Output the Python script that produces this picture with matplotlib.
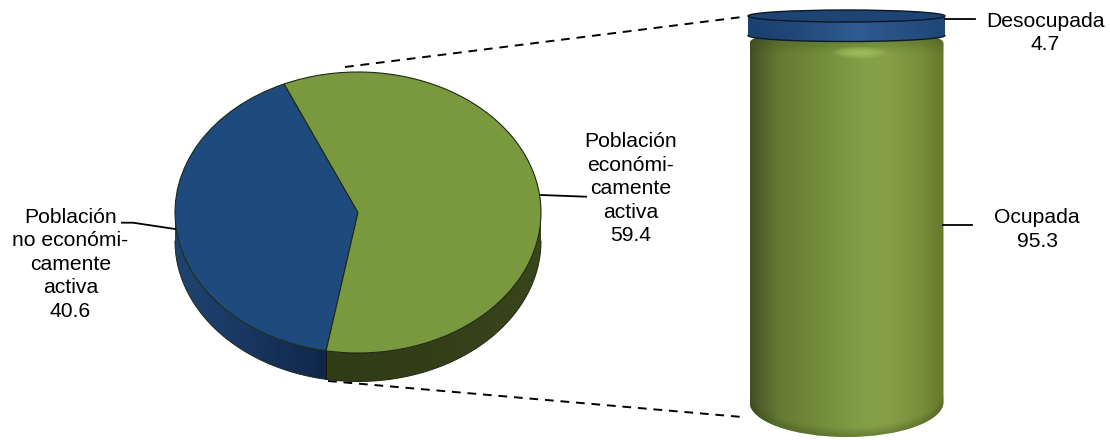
import numpy as np
import matplotlib
matplotlib.use("Agg")
import matplotlib.pyplot as plt
from matplotlib.patches import Wedge, Polygon, Ellipse, PathPatch
from matplotlib.path import Path
from matplotlib.colors import LinearSegmentedColormap, to_rgb
from matplotlib.transforms import Affine2D

plt.rcParams['font.family'] = ['Liberation Sans', 'DejaVu Sans']

# ---- data ----
pie_labels = ["Población\nno económi-\ncamente\nactiva", "Población\neconómi-\ncamente\nactiva"]
pie_values = [40.6, 59.4]
stack_labels = ["Desocupada", "Ocupada"]
stack_values = [4.7, 95.3]

BLUE = "#1F4A7E"
GREEN = "#7A993F"
EDGE = "#1b2a14"

fig = plt.figure(figsize=(11.1, 4.4), dpi=100)
ax = fig.add_axes([0, 0, 1, 1])
ax.axis("off")

# ---- 3D pie ----
cx, cy, rx, ry, depth = 358.0, 212.5, 183.0, 140.5, 28.5
start = 113.8
sweep = [v / sum(pie_values) * 360 for v in pie_values]
blue_end = start + sweep[0]
pie_tf = Affine2D().scale(rx, -ry).translate(cx, cy) + ax.transData

grad = np.linspace(0, 1, 256).reshape(1, -1)


def side_wall(a0, a1, cmap, z=2):
    """Side of the pie between two angles, shaded left to right."""
    t = np.radians(np.linspace(a0, a1, 120))
    x = cx + rx * np.cos(t)
    y = cy - ry * np.sin(t)
    poly = Polygon(np.r_[np.c_[x, y], np.c_[x[::-1], y[::-1] + depth]], closed=True,
                   fc="none", ec="none", zorder=z)
    ax.add_patch(poly)
    im = ax.imshow(grad, cmap=cmap, extent=[x.min(), x.max(), cy + ry + depth + 1, cy - 5],
                   aspect="auto", zorder=z + 0.1)
    im.set_clip_path(poly)
    ax.plot(x, y + depth, color="#20281a", lw=0.7, zorder=z + 0.2)


side_wall(180, blue_end, LinearSegmentedColormap.from_list("bw", ["#1F4471", "#183660", "#10264A"]))
side_wall(blue_end, 360, LinearSegmentedColormap.from_list("gw", ["#303C16", "#343F18", "#39451B"]))
sx = cx + rx * np.cos(np.radians(blue_end))
sy = cy - ry * np.sin(np.radians(blue_end))
ax.plot([sx, sx], [sy, sy + depth], color="#10180c", lw=0.7, zorder=2.5)

# top face
ax.add_patch(Wedge((0, 0), 1, start, blue_end, fc=BLUE, ec=EDGE, lw=0.8, transform=pie_tf, zorder=3))
ax.add_patch(Wedge((0, 0), 1, blue_end, start + 360, fc=GREEN, ec=EDGE, lw=0.8, transform=pie_tf, zorder=3))

# ---- cylinder ----
cyl_cx, cyl_rx = 846.5, 97.0
disc_rx = 98.5
top_y = 16.0
height = 415.0
end_ry = 6.0
y_split = top_y + height * stack_values[0] / sum(stack_values)
y_base = y_split + height * stack_values[1] / sum(stack_values)
base_bottom = y_base + end_ry
base_ry = 35.0

xl, xr = cyl_cx - cyl_rx, cyl_cx + cyl_rx
k = 0.5523
corner = 7
verts = [(xl, y_split + 8), (xl, base_bottom - base_ry),
         (xl, base_bottom - base_ry + k * base_ry), (cyl_cx - k * cyl_rx, base_bottom), (cyl_cx, base_bottom),
         (cyl_cx + k * cyl_rx, base_bottom), (xr, base_bottom - base_ry + k * base_ry), (xr, base_bottom - base_ry),
         (xr, y_split + 8), (xr, y_split + 4), (xr - corner, y_split + 2), (xr - corner, y_split + 2),
         (xl + corner, y_split + 2), (xl + corner, y_split + 2), (xl, y_split + 4), (xl, y_split + 8)]
codes = [Path.MOVETO, Path.LINETO, Path.CURVE4, Path.CURVE4, Path.CURVE4, Path.CURVE4, Path.CURVE4, Path.CURVE4,
         Path.LINETO, Path.CURVE4, Path.CURVE4, Path.CURVE4, Path.LINETO, Path.CURVE4, Path.CURVE4, Path.CURVE4]
body = PathPatch(Path(verts, codes), fc="none", ec="none", zorder=4)
ax.add_patch(body)

green_cm = LinearSegmentedColormap.from_list("g", [
    (0.00, "#434F24"), (0.05, "#4F602A"), (0.15, "#647A33"), (0.35, "#728C3A"),
    (0.60, "#84A046"), (0.72, "#859F46"), (0.88, "#76903A"), (1.00, "#66782C")])
im = ax.imshow(grad, cmap=green_cm, extent=[xl, xr, base_bottom + 1, y_split], aspect="auto", zorder=4.1)
im.set_clip_path(body)

# vertical shading: dark just under the disc and along the rounded base
h = 200
yy = np.linspace(y_split, base_bottom + 1, h)
alpha = np.clip(1 - (yy - y_split - 2) / 16, 0, 1) * 0.35
xg = np.linspace(-1, 1, 200)
base_curve = base_bottom - base_ry + base_ry * np.sqrt(1 - xg ** 2 * 0.999)
shade = np.zeros((h, 200, 4))
shade[..., :3] = to_rgb("#3A4A1A")
for j, y in enumerate(yy):
    near = np.clip(1 - (base_curve - y) / 9, 0, 1)
    shade[j, :, 3] = np.maximum(alpha[j], near * 0.35)
im2 = ax.imshow(shade, extent=[xl, xr, base_bottom + 1, y_split], aspect="auto", zorder=4.2)
im2.set_clip_path(body)

# soft highlight on the shoulder
hx = np.linspace(-1, 1, 120)
hy = np.linspace(-1, 1, 40)
HX, HY = np.meshgrid(hx, hy)
hl = np.zeros((40, 120, 4))
hl[..., :3] = to_rgb("#A9C565")
hl[..., 3] = np.clip(1 - (HX ** 2 + HY ** 2), 0, 1) * 0.75
ax.imshow(hl, extent=[830, 890, 59, 46], aspect="auto", zorder=4.3)

# blue disc
disc_xl, disc_xr = cyl_cx - disc_rx, cyl_cx + disc_rx
t = np.linspace(np.pi, 2 * np.pi, 100)
wall_x = cyl_cx + disc_rx * np.cos(t)
wall_y = y_split - end_ry * np.sin(t)
top_edge_y = top_y - end_ry * np.sin(t)
wall = Polygon(np.r_[np.c_[wall_x, top_edge_y], np.c_[wall_x[::-1], wall_y[::-1]]],
               closed=True, fc="none", ec="none", zorder=5)
ax.add_patch(wall)
blue_cm = LinearSegmentedColormap.from_list("b", [
    (0.00, "#1C406C"), (0.25, "#21487A"), (0.55, "#2F5C93"), (0.70, "#2A5489"), (1.00, "#1E4676")])
im3 = ax.imshow(grad, cmap=blue_cm, extent=[disc_xl, disc_xr, y_split + end_ry, top_y - end_ry],
                aspect="auto", zorder=5.1)
im3.set_clip_path(wall)
ax.plot(wall_x, wall_y, color="#0d1a2a", lw=1.0, zorder=5.2)
ax.add_patch(Ellipse((cyl_cx, top_y), 2 * disc_rx, 2 * end_ry, fc="#1D4472", ec="#0b1626", lw=1.0, zorder=5.3))

# ---- connectors ----
dash = dict(color="black", lw=1.4, ls=(0, (4.5, 3.5)), zorder=1)
ax.plot([345, 742], [67, 17], **dash)
ax.plot([328, 742], [381, 417], **dash)

lead = dict(color="black", lw=1.3, zorder=6)
ax.plot([122, 133, 175], [222.7, 222.7, 229], **lead)
ax.plot([541, 586], [195, 196.7], **lead)
ax.plot([945, 975], [19.3, 19.3], **lead)
ax.plot([943, 972], [225, 225], **lead)

# ---- labels ----
fs = 15.2
txt = dict(ha="center", va="center", fontsize=fs, color="black", zorder=7, linespacing=1.3)
ax.text(70.5, 264.3, f"{pie_labels[0]}\n{pie_values[0]}", **txt)
ax.text(631, 188.7, f"{pie_labels[1]}\n{pie_values[1]}", **txt)
ax.text(1045.5, 33, f"{stack_labels[0]}\n{stack_values[0]}", **txt)
ax.text(1037, 229.5, f"{stack_labels[1]}\n{stack_values[1]}", **txt)

ax.set_xlim(0, 1110)
ax.set_ylim(440, 0)
ax.set_aspect("auto")
fig.savefig("out.png", dpi=100, facecolor="white")
